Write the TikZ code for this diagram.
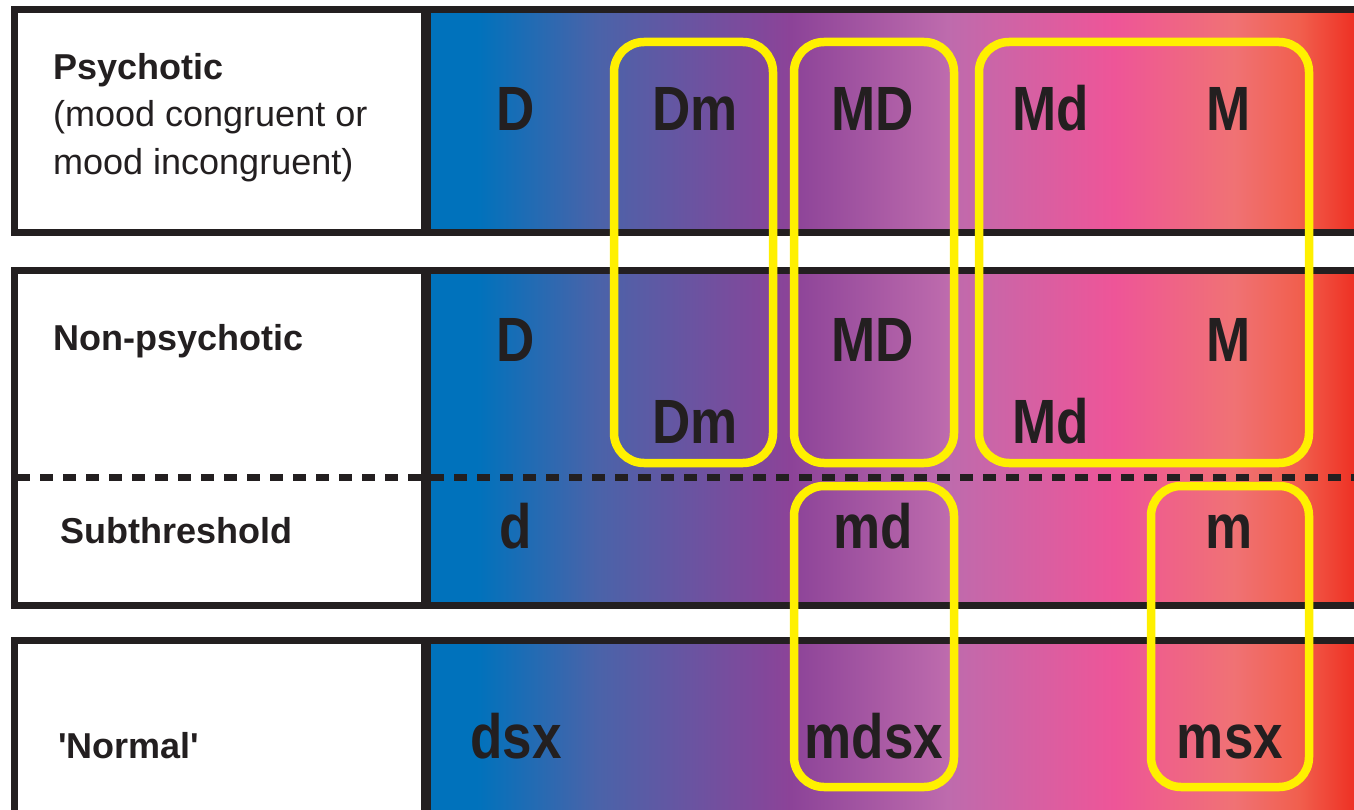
\documentclass[tikz,border=0pt]{standalone}
\usepackage{fontspec}
\setmainfont{Liberation Sans}
\usetikzlibrary{positioning}
\definecolor{inkblack}{HTML}{231F20}
\definecolor{boxyellow}{HTML}{FFF000}
\definecolor{spBlue}{HTML}{0072BC}
\definecolor{spSlate}{HTML}{4A63A9}
\definecolor{spPurple}{HTML}{8C4398}
\definecolor{spMauve}{HTML}{BE6BAD}
\definecolor{spPink}{HTML}{EE5598}
\definecolor{spSalmon}{HTML}{F07274}
\definecolor{spCoral}{HTML}{F15F4E}
\definecolor{spRed}{HTML}{EE3124}
\pgfdeclarehorizontalshading{moodspectrum}{100bp}{%
  color(0bp)=(spBlue); color(27.5bp)=(spBlue); color(34bp)=(spSlate);
  color(44.5bp)=(spPurple); color(53bp)=(spMauve); color(62bp)=(spPink);
  color(68.5bp)=(spSalmon); color(72bp)=(spCoral); color(75bp)=(spRed);
  color(100bp)=(spRed)}
\newcommand{\tall}[1]{\scalebox{1}[1.18]{#1}}

\begin{document}
\begin{tikzpicture}[
  x=1pt, y=-1pt,
  frame/.style={draw=inkblack, line width=7pt},
  divider/.style={draw=inkblack, line width=10pt},
  sepline/.style={draw=inkblack, line width=7pt, dash pattern=on 13pt off 10pt},
  group/.style={draw=boxyellow, line width=8.5pt, rounded corners=30pt},
  head/.style={font=\fontsize{36}{44}\selectfont\bfseries, text=inkblack, anchor=base west, inner sep=0pt},
  note/.style={font=\fontsize{36}{44}\selectfont, text=inkblack, anchor=base west, inner sep=0pt},
  code/.style={font=\fontsize{53}{53}\selectfont\bfseries, text=inkblack, anchor=base, inner sep=0pt},
]
\clip (0,0) rectangle (1354,810);
\fill[white] (0,0) rectangle (1354,810);

% Spectrum bands
\shade[shading=moodspectrum] (431,9) rectangle (1354,233);
\shade[shading=moodspectrum] (431,270) rectangle (1354,606);
\shade[shading=moodspectrum] (431,640) rectangle (1354,810);

% Panel frames
\draw[frame] (1360,9.5) -- (14,9.5) -- (14,232.5) -- (1360,232.5);
\draw[frame] (1360,270.5) -- (14,270.5) -- (14,605.5) -- (1360,605.5);
\draw[frame] (1360,640.5) -- (14,640.5) -- (14,820);
\draw[divider] (426,13) -- (426,229);
\draw[divider] (426,274) -- (426,602);
\draw[divider] (426,644) -- (426,820);

% Threshold
\draw[sepline] (17,477) -- (1354,477);

% Row labels
\node[head] (psyHead) at (53,80) {Psychotic};
\node[note] (psyNoteA) at (53,127) {(mood congruent or};
\node[note] (psyNoteB) at (53,175) {mood incongruent)};
\node[head] (npHead) at (53,350) {Non-psychotic};
\node[head] (subHead) at (60,543) {Subthreshold};
\node[head] (nrmHead) at (58,758) {\textquotesingle Normal\textquotesingle};

% Psychotic row
\node[code] (psyD) at (516,131) {\tall{D}};
\node[code] (psyDm) at (695,131) {\tall{Dm}};
\node[code] (psyMD) at (873,131) {\tall{MD}};
\node[code] (psyMd) at (1051,131) {\tall{Md}};
\node[code] (psyM) at (1229,131) {\tall{M}};

% Non-psychotic row
\node[code] (npD) at (516,361) {\tall{D}};
\node[code] (npMD) at (873,361) {\tall{MD}};
\node[code] (npM) at (1229,361) {\tall{M}};
\node[code] (npDm) at (695,443) {\tall{Dm}};
\node[code] (npMd) at (1051,443) {\tall{Md}};

% Subthreshold row
\node[code] (subd) at (516,548) {\tall{d}};
\node[code] (submd) at (873,548) {\tall{md}};
\node[code] (subm) at (1229,548) {\tall{m}};

% Normal row
\node[code] (nrmdsx) at (516,758) {\tall{dsx}};
\node[code] (nrmmdsx) at (874,758) {\tall{mdsx}};
\node[code] (nrmmsx) at (1230,758) {\tall{msx}};

% Groupings
\draw[group] (614,42) rectangle (773,463);
\draw[group] (794,42) rectangle (954,463);
\draw[group] (979,42) rectangle (1309,463);
\draw[group] (794,486) rectangle (954,787);
\draw[group] (1151,486) rectangle (1309,787);

\end{tikzpicture}
\end{document}
